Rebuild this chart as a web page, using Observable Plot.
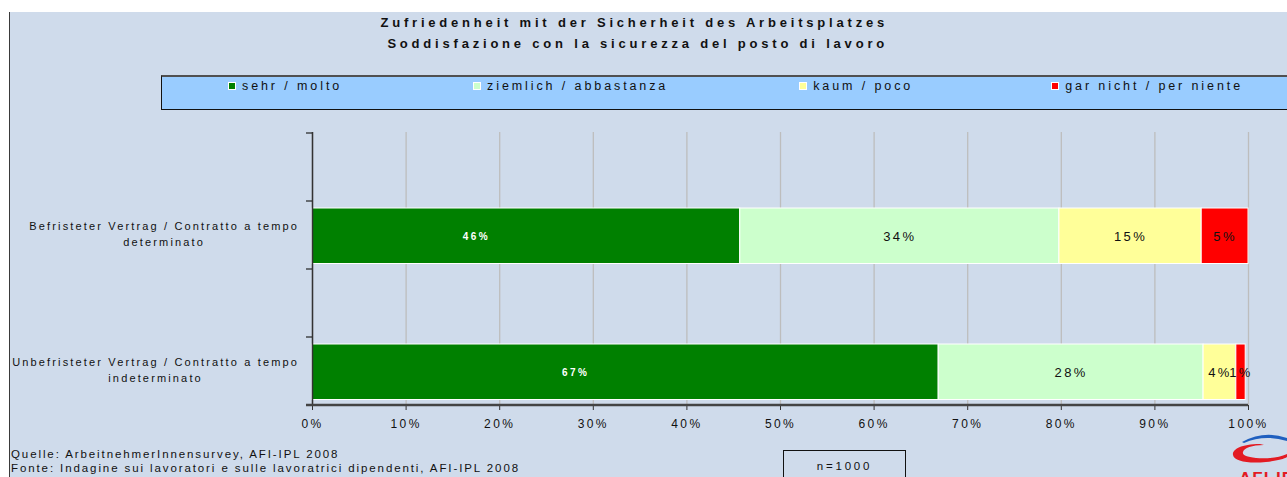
<!DOCTYPE html>
<html>
<head>
<meta charset="utf-8">
<script src="https://cdn.jsdelivr.net/npm/d3@7"></script>
<script src="https://cdn.jsdelivr.net/npm/@observablehq/plot@0.6"></script>
<style>
  body { margin: 0; background: #fff; font-family: "Liberation Sans", Arial, sans-serif; }
  #page { position: relative; width: 1287px; height: 477px; overflow: hidden; background: #fff; }
  #bg { position: absolute; left: 9px; top: 12px; right: 0; bottom: 0; background: #cfdbeb; border-left: 1.5px solid #3a3a3a; }
  #title { position: absolute; left: 0; width: 888px; top: 12px; text-align: right; font-weight: bold; font-size: 13px; letter-spacing: 3.8px; line-height: 21px; color: #111; white-space: nowrap; }
  #legend { position: absolute; left: 161px; top: 75px; width: 1140px; height: 32px; background: #99ccff; border: 1px solid #111; border-top: 2px solid #505050; }
  #legend .items { position: absolute; left: 66px; top: 1px; display: flex; white-space: nowrap; }
  #legend .item { display: flex; align-items: center; margin-right: 131px; font-size: 12.5px; letter-spacing: 2.9px; line-height: 16px; color: #111; white-space: nowrap; }
  #legend .item:nth-child(3) { margin-right: 138px; }
  #legend .sw { width: 8px; height: 8px; margin-right: 6px; border: 0.5px solid #fff; box-sizing: border-box; }
  #chart { position: absolute; left: 0; top: 112px; }
  .src { position: absolute; left: 11px; font-size: 11.5px; letter-spacing: 1.9px; color: #111; white-space: nowrap; }
  #nbox { position: absolute; left: 783px; top: 450px; width: 121px; height: 40px; border: 1.5px solid #111; font-size: 11.5px; letter-spacing: 2.8px; text-align: center; line-height: 31px; color: #111; }
  #logo { position: absolute; left: 1226px; top: 430px; }
</style>
</head>
<body>
<div id="page">
  <div id="bg"></div>
  <div id="title"></div>
  <div id="legend"><div class="items"></div></div>
  <div id="chart"></div>
  <div class="src" id="src1" style="top:448px"></div>
  <div class="src" id="src2" style="top:462px"></div>
  <div id="nbox"></div>
  <svg id="logo" width="61" height="47">
    <path d="M 16 12 Q 38 0 61 8 L 61 11 Q 38 4 18 13 Z" fill="#1f5fbf"/>
    <path d="M 34 14 C 14 14 6 20 7 25 C 8 31 22 34 40 32 C 50 31 58 29 61 27 L 61 24 C 52 28 40 29 30 28 C 20 27 16 25 17 22 C 18 18 26 15 38 15 Z" fill="#e31b23"/>
    <text x="13" y="54" font-family="Liberation Sans, Arial, sans-serif" font-weight="bold" font-size="17" fill="#e31b23" letter-spacing="1">AFI-IPL</text>
  </svg>
</div>
<script>
// ---- data ----
const titleLines = ["Zufriedenheit mit der Sicherheit des Arbeitsplatzes", "Soddisfazione con la sicurezza del posto di lavoro"];
const levels = ["sehr / molto", "ziemlich / abbastanza", "kaum / poco", "gar nicht / per niente"];
const levelColors = ["#008000", "#ccffcc", "#ffff99", "#ff0000"];
const categoryLines = [
  ["Befristeter Vertrag / Contratto a tempo", "determinato"],
  ["Unbefristeter Vertrag / Contratto a tempo", "indeterminato"]
];
const befristet = [45.7, 34.1, 15.2, 5.0];
const unbefristet = [66.9, 28.3, 3.5, 1.0];
const xTicks = [0, 10, 20, 30, 40, 50, 60, 70, 80, 90, 100];
const sourceLines = ["Quelle: ArbeitnehmerInnensurvey, AFI-IPL 2008", "Fonte: Indagine sui lavoratori e sulle lavoratrici dipendenti, AFI-IPL 2008"];
const sampleNote = "n=1000";

// ---- build table ----
const categories = categoryLines.map(l => l.join(" "));
const series = [befristet, unbefristet];
const rows = [];
categories.forEach((c, i) => levels.forEach((l, j) => rows.push({cat: c, level: l, value: series[i][j], idx: j})));
const yDomain = ["_gap0", categories[0], "_gap1", categories[1]];

// ---- texts ----
document.getElementById("title").innerHTML = titleLines.join("<br>");
document.getElementById("src1").textContent = sourceLines[0];
document.getElementById("src2").textContent = sourceLines[1];
document.getElementById("nbox").textContent = sampleNote;
const items = d3.select("#legend .items");
levels.forEach((l, i) => {
  const it = items.append("div").attr("class", "item");
  it.append("div").attr("class", "sw").style("background", levelColors[i]);
  it.append("span").text(l);
});

const label = d => Math.round(d.value) + "%";
const plot = Plot.plot({
  width: 1287, height: 323,
  marginLeft: 312, marginRight: 39, marginTop: 20, marginBottom: 30,
  style: {background: "transparent", fontFamily: "Liberation Sans, Arial, sans-serif", color: "#111"},
  x: {domain: [0, 100], axis: null, label: null},
  y: {domain: yDomain, padding: 0, axis: null},
  color: {domain: levels, range: levelColors},
  marks: [
    Plot.gridX(xTicks, {stroke: "#bdbdbd", strokeOpacity: 1, strokeWidth: 1.3}),
    Plot.barX(rows, Plot.stackX({x: "value", y: "cat", fill: "level", stroke: "white", strokeWidth: 1, insetTop: 7, insetBottom: 5.5})),
    Plot.text(rows, Plot.stackX({x: "value", y: "cat", text: d => d.idx === 0 ? label(d) : "", fill: "white", fontWeight: "bold", fontSize: 10, dy: 1, dx: -50})),
    Plot.text(rows, Plot.stackX({x: "value", y: "cat", text: d => d.idx === 0 ? "" : label(d), fill: "#111", fontSize: 13, dy: 1})),
    Plot.ruleX([0], {stroke: "#333", strokeWidth: 1.5}),
    Plot.axisX(xTicks, {anchor: "bottom", tickSize: 5, tickPadding: 9, tickFormat: d => d + "%", fontSize: 12, stroke: "#333", label: null})
  ]
});
document.getElementById("chart").appendChild(plot);

// ---- post process: letter spacing, axis line, boundary ticks, category labels ----
const svg = d3.select(plot);
svg.selectAll("text").style("letter-spacing", "2.4px");
const ys = plot.scale("y"), xs = plot.scale("x");
const yBottom = ys.apply(yDomain[yDomain.length - 1]) + ys.bandwidth;
const xLeft = xs.apply(0), xRight = xs.apply(100);
const g = svg.append("g");
g.append("line").attr("x1", xLeft - 6).attr("x2", xRight).attr("y1", yBottom).attr("y2", yBottom).attr("stroke", "#444").attr("stroke-width", 2.5);
yDomain.forEach(d => {
  const yy = ys.apply(d);
  g.append("line").attr("x1", xLeft - 6).attr("x2", xLeft).attr("y1", yy).attr("y2", yy).attr("stroke", "#222").attr("stroke-width", 1.2);
});
categories.forEach((c, i) => {
  const cy = ys.apply(c) + ys.bandwidth / 2;
  const t1 = g.append("text").attr("font-size", 11).attr("fill", "#111").style("letter-spacing", "2.15px")
    .attr("text-anchor", "end").attr("x", xLeft - 13).attr("y", cy - 5).text(categoryLines[i][0]);
  const w = t1.node().getComputedTextLength();
  g.append("text").attr("font-size", 11).attr("fill", "#111").style("letter-spacing", "2.15px")
    .attr("text-anchor", "middle").attr("x", xLeft - 13 - w / 2).attr("y", cy + 11).text(categoryLines[i][1]);
});
</script>
</body>
</html>
